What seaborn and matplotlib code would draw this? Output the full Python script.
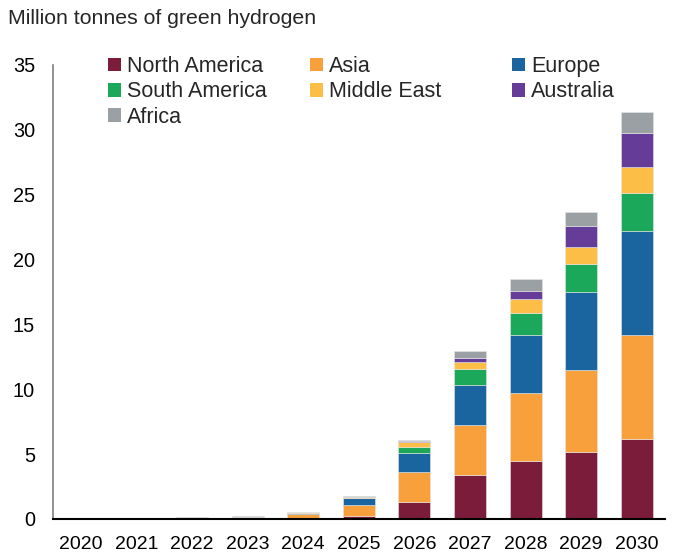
import matplotlib
matplotlib.use("Agg")
import matplotlib.pyplot as plt
import seaborn as sns
import numpy as np
from matplotlib.patches import Patch

years = ["2020", "2021", "2022", "2023", "2024", "2025", "2026", "2027", "2028", "2029", "2030"]
north_america = [0.02, 0.04, 0.02, 0.03, 0.05, 0.22, 1.34, 3.35, 4.43, 5.13, 6.20]
asia = [0.00, 0.00, 0.02, 0.10, 0.33, 0.85, 2.27, 3.87, 5.29, 6.37, 7.95]
europe = [0.04, 0.00, 0.00, 0.02, 0.10, 0.53, 1.44, 3.09, 4.46, 6.00, 8.05]
south_america = [0.00, 0.00, 0.00, 0.01, 0.01, 0.04, 0.52, 1.21, 1.67, 2.17, 2.95]
middle_east = [0.00, 0.00, 0.00, 0.01, 0.01, 0.04, 0.36, 0.54, 1.09, 1.31, 2.00]
australia = [0.00, 0.00, 0.00, 0.00, 0.01, 0.03, 0.10, 0.37, 0.64, 1.58, 2.60]
africa = [0.00, 0.00, 0.08, 0.05, 0.03, 0.05, 0.08, 0.51, 0.90, 1.08, 1.60]

series_names = ["North America", "Asia", "Europe", "South America", "Middle East", "Australia", "Africa"]
series_values = [north_america, asia, europe, south_america, middle_east, australia, africa]
colors = ["#7B1C3B", "#F7A03C", "#1A64A0", "#1BA85A", "#FDBE47", "#653D98", "#9AA0A3"]

sns.set_theme(style="white")
plt.rcParams["font.family"] = ["Liberation Sans", "DejaVu Sans"]

fig = plt.figure(figsize=(6.75, 5.55), dpi=100)
ax = fig.add_axes([0.0785, 0.065, 0.906, 0.818])

bottom = np.zeros(len(years))
for name, vals, col in zip(series_names, series_values, colors):
    sns.barplot(x=years, y=vals, bottom=bottom, color=col, width=0.575,
                edgecolor="#e6e6e6", linewidth=0.4, ax=ax, saturation=1, label=name)
    bottom = bottom + np.array(vals)

ax.set_ylim(0, 35)
ax.set_xlim(-0.5, 10.5)
ax.set_yticks(range(0, 36, 5))
ax.tick_params(axis="y", length=0, pad=13, labelsize=14.3, colors="#000000")
ax.tick_params(axis="x", length=0, pad=12, labelsize=14, colors="#000000")
ax.set_xlabel("")
ax.set_ylabel("")
for s in ["top", "right"]:
    ax.spines[s].set_visible(False)
ax.spines["left"].set_color("#7f7f7f")
ax.spines["left"].set_linewidth(1.2)
ax.spines["bottom"].set_color("#000000")
ax.spines["bottom"].set_linewidth(1.5)
if ax.get_legend() is not None:
    ax.get_legend().remove()

fig.text(0.012, 0.966, "Million tonnes of green hydrogen", fontsize=15.3, va="center", ha="left")

handles = [Patch(facecolor=c, edgecolor="none", label=n) for n, c in zip(series_names, colors)]
groups = [[0, 3, 6], [1, 4], [2, 5]]
xs = [108 / 675, 310 / 675, 512 / 675]
for g, x0 in zip(groups, xs):
    leg = fig.legend(handles=[handles[i] for i in g], loc="upper left",
                     bbox_to_anchor=(x0, 1 - 56 / 555), frameon=False, fontsize=15.5,
                     handlelength=0.6, handleheight=0.6, handletextpad=0.3,
                     labelspacing=0.2, borderpad=0, borderaxespad=0)

fig.savefig("out.png", dpi=100)
